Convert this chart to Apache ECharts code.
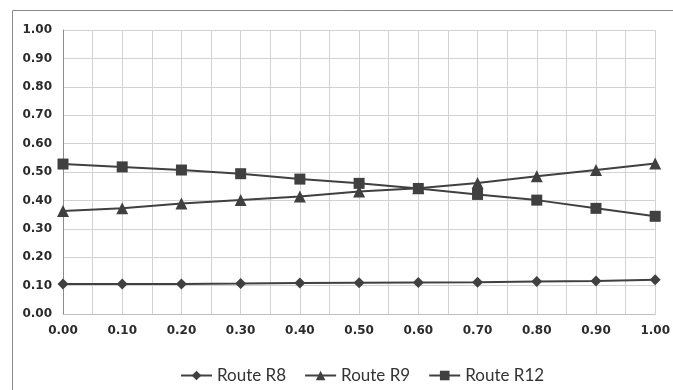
<!DOCTYPE html>
<html>
<head>
<meta charset="utf-8">
<script src="https://cdn.jsdelivr.net/npm/echarts@6/dist/echarts.min.js"></script>
<style>
html,body{margin:0;padding:0;background:#fff;}
#chart{width:673px;height:390px;}
</style>
</head>
<body>
<div id="chart"></div>
<script>
var xValues = [0.0, 0.1, 0.2, 0.3, 0.4, 0.5, 0.6, 0.7, 0.8, 0.9, 1.0];
var routeR8 = [0.106, 0.106, 0.106, 0.107, 0.109, 0.110, 0.111, 0.112, 0.114, 0.116, 0.121];
var routeR9 = [0.363, 0.372, 0.389, 0.401, 0.414, 0.431, 0.443, 0.461, 0.485, 0.507, 0.530];
var routeR12 = [0.528, 0.518, 0.507, 0.494, 0.475, 0.460, 0.442, 0.421, 0.401, 0.372, 0.344];
var seriesNames = ['Route R8', 'Route R9', 'Route R12'];

function pairs(ys) { return xValues.map(function (x, i) { return [x, ys[i]]; }); }

var chart = echarts.init(document.getElementById('chart'), null, {renderer: 'canvas'});
var lineColor = '#404040';
var labelStyle = {color: '#2b2b2b', fontFamily: 'DejaVu Sans', fontWeight: 'bold', fontSize: 12};
function mk(name, data, symbol, size) {
  return {
    name: name, type: 'line', data: pairs(data), symbol: symbol, symbolSize: size,
    lineStyle: {color: lineColor, width: 2}, itemStyle: {color: lineColor},
    showAllSymbol: true, animation: false
  };
}
chart.setOption({
  animation: false,
  backgroundColor: '#fff',
  graphic: [
    {type: 'line', shape: {x1: 12.5, y1: 10.5, x2: 673, y2: 10.5}, style: {stroke: '#8c8c8c', lineWidth: 1}},
    {type: 'line', shape: {x1: 12.5, y1: 10.5, x2: 12.5, y2: 390}, style: {stroke: '#8c8c8c', lineWidth: 1}}
  ],
  grid: {left: 63, right: 14, top: 30, bottom: 76, containLabel: false},
  xAxis: {
    type: 'value', min: 0, max: 1, interval: 0.1,
    axisLine: {show: true, lineStyle: {color: '#bfbfbf'}},
    axisTick: {show: false},
    minorTick: {show: false, splitNumber: 2},
    minorSplitLine: {show: true, lineStyle: {color: '#d2d2d2', width: 1}},
    splitLine: {show: true, lineStyle: {color: '#d2d2d2', width: 1}},
    axisLabel: Object.assign({margin: 11, formatter: function (v) { return v.toFixed(2); }}, labelStyle)
  },
  yAxis: {
    type: 'value', min: 0, max: 1, interval: 0.1,
    axisLine: {show: true, lineStyle: {color: '#8c8c8c'}},
    axisTick: {show: false},
    splitLine: {show: true, lineStyle: {color: '#d2d2d2', width: 1}},
    axisLabel: Object.assign({margin: 11, formatter: function (v) { return v.toFixed(2); }}, labelStyle)
  },
  legend: {
    left: 175, top: 362, itemWidth: 31, itemHeight: 12, itemGap: 18,
    data: seriesNames,
    textStyle: {color: '#333333', fontFamily: 'Lato', fontSize: 17}
  },
  series: [
    mk(seriesNames[0], routeR8, 'diamond', 11),
    mk(seriesNames[1], routeR9, 'triangle', 12),
    mk(seriesNames[2], routeR12, 'rect', 11)
  ]
});
</script>
</body>
</html>
